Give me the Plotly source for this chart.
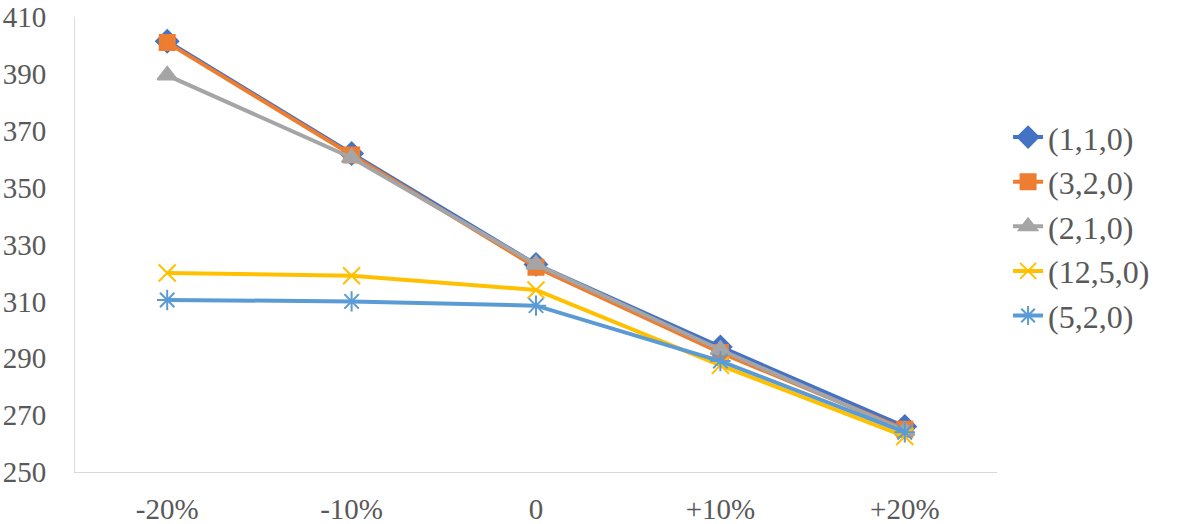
import plotly.graph_objects as go

categories = ["-20%", "-10%", "0", "+10%", "+20%"]
s110 = [401.5, 362.0, 323.0, 294.0, 266.0]
s320 = [401.0, 361.5, 322.0, 292.0, 265.0]
s210 = [389.5, 360.5, 323.0, 293.0, 264.5]
s1250 = [320.0, 319.0, 314.0, 287.5, 262.5]
s520 = [310.5, 310.0, 308.5, 289.0, 264.0]
yticks = [250, 270, 290, 310, 330, 350, 370, 390, 410]

series = [
    ("(1,1,0)", s110, "#4472C4", "diamond", 17),
    ("(3,2,0)", s320, "#ED7D31", "square", 15),
    ("(2,1,0)", s210, "#A5A5A5", "triangle-up", 17),
    ("(12,5,0)", s1250, "#FFC000", "x-thin-open", 17),
    ("(5,2,0)", s520, "#5B9BD5", "asterisk-open", 17),
]

fig = go.Figure()
for name, vals, color, sym, size in series:
    fig.add_trace(go.Scatter(
        x=categories, y=vals, name=name, mode="lines+markers",
        line=dict(color=color, width=4),
        marker=dict(symbol=sym, size=size, color=color,
                    line=dict(color=color, width=2)),
    ))

fig.update_layout(
    width=1181, height=524,
    paper_bgcolor="white", plot_bgcolor="white",
    margin=dict(l=75, r=184, t=17, b=52),
    font=dict(family="Liberation Serif", size=29, color="#595959"),
    showlegend=True,
    legend=dict(x=1.012, y=0.54, xanchor="left", yanchor="middle",
                font=dict(size=32, color="#595959"), tracegroupgap=0,
                itemwidth=30, bgcolor="rgba(0,0,0,0)"),
)
fig.update_xaxes(range=[-0.5, 4.5], showgrid=False, showline=True,
                 linecolor="#D9D9D9", linewidth=1,
                 ticks="", ticklabelstandoff=11, zeroline=False, automargin=False)
fig.update_yaxes(range=[250, 410], tickvals=yticks, showgrid=False, showline=True,
                 linecolor="#D9D9D9", linewidth=1, ticks="", ticklabelstandoff=22,
                 zeroline=False, automargin=False, ticklabeloverflow="allow")

fig.write_html("out.html", config={"displayModeBar": False},
               post_script="document.body.style.margin='0';document.body.style.overflow='hidden';")
